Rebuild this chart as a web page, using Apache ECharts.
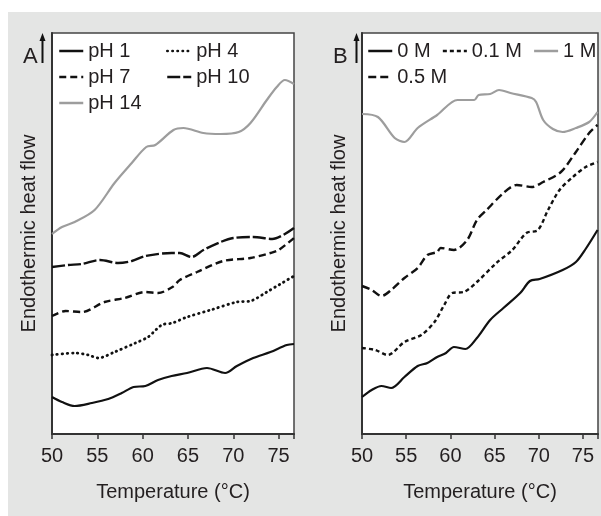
<!DOCTYPE html>
<html><head><meta charset="utf-8">
<script src="https://cdn.jsdelivr.net/npm/echarts@6/dist/echarts.min.js"></script>
<style>html,body{margin:0;padding:0;background:#fff}#c{width:601px;height:516px}</style>
</head><body><div id="c"></div>
<script>
// Panel A (pH series): [temperature °C, relative heat flow]
const ph1 = [[50.0,37],[51.1,32],[52.5,28],[54.4,31],[56.2,35],[57.7,41],[59.0,47],[60.3,48],[61.7,54],[63.2,58],[64.9,61],[67.1,66],[69.1,61],[70.4,68],[72.2,76],[74.1,82],[75.9,89],[76.7,90]];
const ph4 = [[50.0,79],[52.5,81],[54.0,79],[55.1,76],[56.9,82],[59.2,91],[60.6,97],[62.1,109],[63.3,111],[64.9,117],[67.5,124],[70.4,132],[71.9,133],[73.7,142],[75.2,150],[76.7,158]];
const ph7 = [[50.0,118],[51.5,123],[53.3,122],[55.8,132],[58.0,136],[60.3,142],[61.7,141],[63.3,147],[64.1,154],[66.0,162],[68.9,173],[71.9,176],[74.1,181],[75.0,184],[76.7,196]];
const ph10 = [[50.0,167],[51.8,169],[53.3,170],[55.3,174],[57.3,171],[58.8,173],[60.3,178],[63.2,181],[64.1,181],[65.4,177],[66.7,184],[68.6,192],[70.0,196],[72.2,197],[74.3,195],[76.7,206]];
const ph14 = [[50.0,200],[51.1,207],[52.5,212],[54.7,224],[56.9,251],[58.8,271],[60.4,287],[61.4,289],[63.4,304],[64.5,306],[66.7,301],[68.6,300],[70.6,302],[71.9,311],[73.7,334],[74.8,347],[75.7,354],[76.7,350]];
// Panel B (salt concentration series)
const m0 = [[50.0,37],[51.1,44],[52.2,48],[53.3,46],[54.8,57],[56.3,68],[57.4,71],[58.5,77],[59.5,81],[60.4,87],[61.7,85],[63.0,96],[64.5,114],[66.0,126],[67.9,141],[69.0,153],[70.1,155],[72.7,164],[74.2,172],[75.3,185],[76.65,204]];
const m01 = [[50.0,86],[51.5,84],[52.9,79],[54.8,92],[56.7,99],[58.2,112],[59.3,129],[60.2,141],[61.5,142],[63.0,152],[65.2,171],[67.0,184],[68.6,201],[69.9,204],[71.05,224],[72.35,244],[73.85,257],[75.3,267],[76.65,272]];
const m05 = [[50.0,148],[51.1,144],[52.2,138],[53.3,144],[54.8,156],[56.3,166],[57.4,179],[58.5,182],[58.9,186],[60.4,184],[61.9,194],[63.0,214],[64.1,224],[66.0,241],[67.5,249],[69.2,247],[70.5,252],[72.5,262],[74.2,282],[75.7,301],[76.65,309]];
const m1 = [[50.0,320],[51.8,317],[53.7,296],[54.8,292],[56.3,306],[58.5,319],[60.8,334],[62.7,334],[63.2,339],[64.5,340],[65.5,344],[66.8,341],[69.2,336],[69.7,332],[70.5,314],[71.6,305],[72.7,302],[74.2,306],[75.7,312],[76.65,322]];

const xTicks = [50, 55, 60, 65, 70, 75];
const xName = 'Temperature (°C)';
const yName = 'Endothermic heat flow';

const FONT = "'Liberation Sans',Arial,sans-serif";
const FS = 20;
const TXT = '#231f20';
const GRAY = '#9d9d9d';

function xAxis(gi) {
  return {
    type: 'value', gridIndex: gi, min: 50, max: 76.7, interval: 5,
    name: xName, nameLocation: 'middle', nameGap: 48,
    nameTextStyle: {fontFamily: FONT, fontSize: FS, color: TXT},
    axisLine: {lineStyle: {color: '#333', width: 2}},
    axisTick: {show: true, length: 5, lineStyle: {color: '#333', width: 1.5}},
    axisLabel: {fontFamily: FONT, fontSize: FS, color: TXT, margin: 12,
      formatter: v => xTicks.indexOf(v) >= 0 ? String(v) : ''},
    splitLine: {show: false}
  };
}
function yAxis(gi) {
  return {
    type: 'value', gridIndex: gi, min: 0, max: 401,
    name: yName, nameLocation: 'middle', nameGap: 13,
    nameTextStyle: {fontFamily: FONT, fontSize: FS, color: TXT},
    axisLine: {show: true, lineStyle: {color: '#333', width: 2}},
    axisTick: {show: false}, axisLabel: {show: false}, splitLine: {show: false}
  };
}
function line(name, data, gi, color, type, width, cap) {
  return {
    name, type: 'line', data, xAxisIndex: gi, yAxisIndex: gi,
    symbol: 'none', smooth: 0.3, color,
    lineStyle: {color, width: width || 2.2, type: type || 'solid', cap: cap || 'butt'},
    emphasis: {disabled: true}, silent: true, animation: false
  };
}
function legend(left, top, names, orient) {
  return {
    left, top, data: names, orient: orient || 'horizontal',
    itemWidth: 24, itemHeight: 14, itemGap: orient === 'vertical' ? 6 : 11,
    width: 240,
    itemStyle: {color: 'rgba(0,0,0,0)', borderColor: 'rgba(0,0,0,0)', borderWidth: 0},
    lineStyle: {width: 2.5},
    textStyle: {fontFamily: FONT, fontSize: FS, color: TXT, lineHeight: 20},
    selectedMode: false, padding: 0
  };
}

const chart = echarts.init(document.getElementById('c'), null, {renderer: 'canvas'});
chart.setOption({
  animation: false,
  backgroundColor: '#e4e5e4',
  grid: [
    {left: 52, top: 33, width: 242, height: 401, show: true, backgroundColor: '#fff', borderColor: '#444', borderWidth: 1.5},
    {left: 362, top: 33, width: 237, height: 401, show: true, backgroundColor: '#fff', borderColor: '#444', borderWidth: 1.5}
  ],
  xAxis: [xAxis(0), xAxis(1)],
  yAxis: [yAxis(0), yAxis(1)],
  legend: [
    legend(58, 41, ['pH 1', 'pH 7', 'pH 14'], 'vertical'),
    legend(166, 41, ['pH 4', 'pH 10'], 'vertical'),
    legend(367, 41, ['0 M', '0.1 M', '1 M']),
    legend(367, 67, ['0.5 M'])
  ],
  series: [
    line('pH 1', ph1, 0, '#111', 'solid', 2.2),
    line('pH 4', ph4, 0, '#111', [0.5, 4.6], 2.8, 'round'),
    line('pH 7', ph7, 0, '#111', [7, 4], 2.4),
    line('pH 10', ph10, 0, '#111', [13, 3], 2.4),
    line('pH 14', ph14, 0, GRAY, 'solid', 2.2),
    line('0 M', m0, 1, '#111', 'solid', 2.2),
    line('0.1 M', m01, 1, '#111', [4, 3], 2.4),
    line('0.5 M', m05, 1, '#111', [8, 4], 2.4),
    line('1 M', m1, 1, GRAY, 'solid', 2.2)
  ],
  graphic: [
    {type: 'rect', shape: {x: 0, y: 0, width: 601, height: 12}, style: {fill: '#fff'}, silent: true},
    {type: 'rect', shape: {x: 0, y: 0, width: 8, height: 516}, style: {fill: '#fff'}, silent: true},
    {type: 'text', x: 23, y: 46, style: {text: 'A', fontFamily: FONT, fontSize: 22, fill: TXT}},
    {type: 'line', shape: {x1: 42.5, y1: 63, x2: 42.5, y2: 39}, style: {stroke: '#111', lineWidth: 2}},
    {type: 'polygon', shape: {points: [[42.5, 33], [39.5, 41], [45.5, 41]]}, style: {fill: '#111'}},
    {type: 'text', x: 333, y: 46, style: {text: 'B', fontFamily: FONT, fontSize: 22, fill: TXT}},
    {type: 'line', shape: {x1: 356.5, y1: 63, x2: 356.5, y2: 39}, style: {stroke: '#111', lineWidth: 2}},
    {type: 'polygon', shape: {points: [[356.5, 33], [353.5, 41], [359.5, 41]]}, style: {fill: '#111'}}
  ]
});
</script></body></html>
